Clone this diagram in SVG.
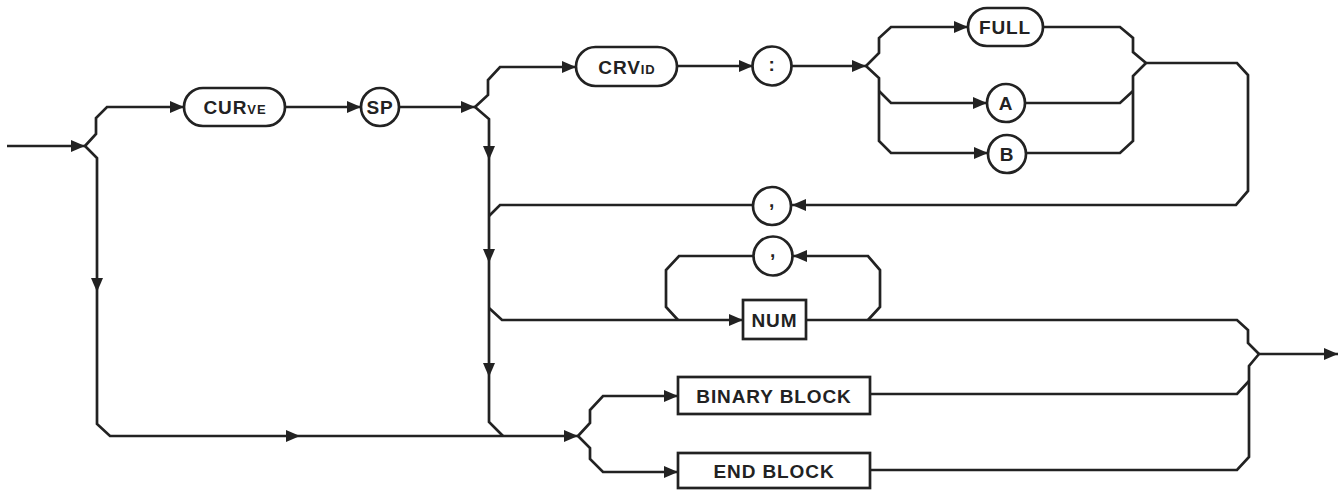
<svg xmlns="http://www.w3.org/2000/svg" width="1341" height="490" viewBox="0 0 1341 490">
<defs>
<marker id="arr" markerUnits="userSpaceOnUse" markerWidth="15" markerHeight="13" viewBox="0 0 15 13" refX="14" refY="6.5" orient="auto">
<path d="M0,0.5 L14,6.5 L0,12.5 Z" fill="#222"/>
</marker>
<style>
.c{fill:none;stroke:#222;stroke-width:2.7;stroke-linejoin:miter}
.a{marker-end:url(#arr)}
.n{fill:#fff;stroke:#222;stroke-width:2.7}
.t{font-family:"Liberation Sans",Arial,sans-serif;font-weight:bold;font-size:19px;fill:#222;text-anchor:middle;letter-spacing:0.9px}
.sc{font-variant:small-caps}
</style>
</defs>
<rect width="1341" height="490" fill="#fff"/>
<g id="connectors">
<path class="c a" d="M7,146 H85"/>
<path class="c a" d="M85,146 L96,134 V118 L107,107 H184"/>
<path class="c a" d="M285,107 H361"/>
<path class="c a" d="M399,107 H475"/>
<path class="c a" d="M85,146 L97,158 V292"/>
<path class="c a" d="M97,292 V424 L110,436 H300"/>
<path class="c a" d="M300,436 H578"/>
<path class="c a" d="M475,107 L488,95 V80 L500,67 H576"/>
<path class="c a" d="M677,66 H753"/>
<path class="c a" d="M792,66 H866"/>
<path class="c a" d="M475,107 L489,119 V160"/>
<path class="c a" d="M489,160 V263"/>
<path class="c a" d="M489,263 V377"/>
<path class="c" d="M489,377 V422 L503,436"/>
<path class="c" d="M753,205 H500 L489,216"/>
<path class="c a" d="M1146,63 H1237 L1248,75 V191 L1236,205 H792"/>
<path class="c a" d="M866,66 L879,53 V38 L891,27 H968"/>
<path class="c" d="M1043,27 H1120 L1133,38 V52 L1146,63"/>
<path class="c a" d="M866,66 L879,78 V141 L891,153 H988"/>
<path class="c a" d="M879,91 L891,103 H987"/>
<path class="c" d="M1025,103 H1120 L1133,91"/>
<path class="c" d="M1026,153 H1120 L1133,141 V76 L1146,63"/>
<path class="c a" d="M489,308 L502,320 H743"/>
<path class="c" d="M754,256 H679 L666,270 V307 L678,320"/>
<path class="c a" d="M868,320 L880,307 V270 L868,256 H793"/>
<path class="c" d="M806,320 H1237 L1248,330 V343 L1259,354"/>
<path class="c a" d="M1259,354 H1338"/>
<path class="c a" d="M578,436 L590,423 V410 L603,396 H678"/>
<path class="c a" d="M578,436 L590,448 V459 L603,472 H678"/>
<path class="c" d="M870,394 H1237 L1249,381"/>
<path class="c" d="M1259,354 L1249,366 V457 L1237,470 H870"/>
</g>
<g id="node-curve"><rect class="n" x="184" y="88" width="101" height="38" rx="19"/><text class="t sc" x="235" y="114">CURve</text></g>
<g id="node-sp"><circle class="n" cx="380" cy="107" r="19"/><text class="t" x="380" y="114">SP</text></g>
<g id="node-crvid"><rect class="n" x="576" y="47" width="101" height="39" rx="19.5"/><text class="t sc" x="627" y="73.5">CRVid</text></g>
<g id="node-colon"><circle class="n" cx="772" cy="66" r="19.5"/><text class="t" x="772" y="71">:</text></g>
<g id="node-full"><rect class="n" x="968" y="8" width="75" height="38" rx="19"/><text class="t" x="1005" y="34">FULL</text></g>
<g id="node-a"><circle class="n" cx="1006" cy="103" r="19"/><text class="t" x="1006" y="110">A</text></g>
<g id="node-b"><circle class="n" cx="1007" cy="154" r="19"/><text class="t" x="1007" y="161">B</text></g>
<g id="node-comma1"><circle class="n" cx="772" cy="206" r="19"/><text class="t" x="772" y="207">,</text></g>
<g id="node-comma2"><circle class="n" cx="773" cy="256" r="19.5"/><text class="t" x="773" y="257">,</text></g>
<g id="node-num"><rect class="n" x="743" y="300" width="63" height="39"/><text class="t" x="774.5" y="327">NUM</text></g>
<g id="node-binary"><rect class="n" x="678" y="377" width="192" height="37"/><text class="t" x="774" y="402.5">BINARY BLOCK</text></g>
<g id="node-end"><rect class="n" x="678" y="453" width="192" height="35"/><text class="t" x="774" y="478">END BLOCK</text></g>
</svg>
